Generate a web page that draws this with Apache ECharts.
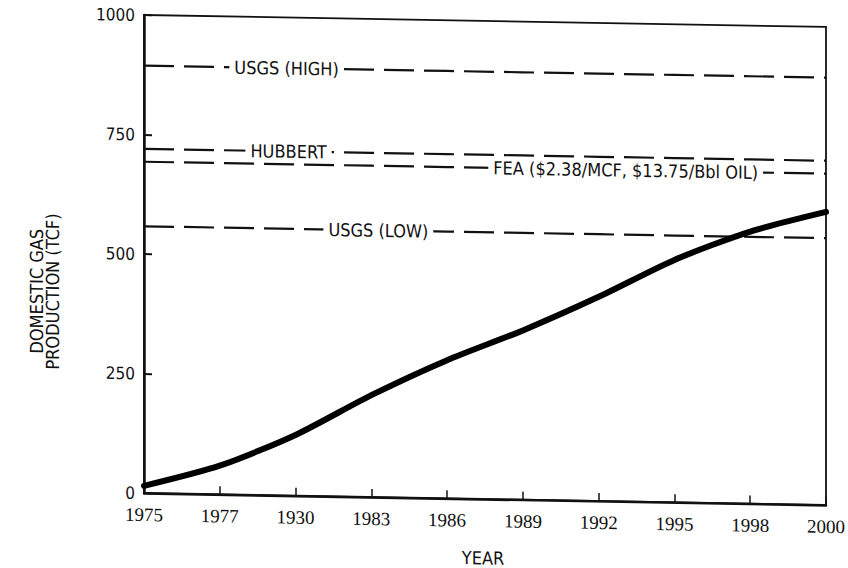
<!DOCTYPE html>
<html>
<head>
<meta charset="utf-8">
<title>Domestic Gas Production</title>
<script src="https://cdn.jsdelivr.net/npm/echarts@6/dist/echarts.min.js"></script>
<style>
  html, body { margin: 0; padding: 0; background: #fff; }
  /* slight slant of the whole drawing, pivoting on the left axis */
  #chart { width: 848px; height: 568px; transform: skewY(1deg); transform-origin: 144px 0; }
</style>
</head>
<body>
<div id="chart"></div>
<script>
// Year ticks, as printed on the axis
const years = ['1975', '1977', '1930', '1983', '1986', '1989', '1992', '1995', '1998', '2000'];

// Cumulative domestic gas production (TCF)
const production = [15, 60, 127, 213, 289, 354, 427, 507, 569, 613];

// Resource estimates (TCF)
const usgsHigh = [894, 894, 894, 894, 894, 894, 894, 894, 894, 894];
const hubbert  = [720, 720, 720, 720, 720, 720, 720, 720, 720, 720];
const fea      = [693, 693, 693, 693, 693, 693, 693, 693, 693, 693];
const usgsLow  = [558, 558, 558, 558, 558, 558, 558, 558, 558, 558];

const yTicks = [0, 250, 500, 750, 1000];

const SANS = '"DejaVu Sans Condensed", "DejaVu Sans", sans-serif';
const SERIF = '"Liberation Serif", "DejaVu Serif", serif';

// dashed estimate line with its caption sitting inline on one point
function estimateSeries(name, values, text, idx, dx) {
  return {
    name: name,
    type: 'line',
    z: 2,
    showSymbol: true,
    symbol: 'circle',
    symbolSize: 0,
    silent: true,
    lineStyle: { color: '#111', width: 2.2, type: [30, 10] },
    itemStyle: { color: '#111' },
    data: values.map((v, i) => i === idx ? {
      value: v,
      label: {
        show: true,
        position: 'inside',
        offset: [dx, 0],
        formatter: text,
        fontFamily: SANS,
        fontSize: 18,
        lineHeight: 16,
        color: '#111',
        backgroundColor: '#fff',
        padding: [0, 5]
      }
    } : { value: v, label: { show: false } })
  };
}

const chart = echarts.init(document.getElementById('chart'), null, { renderer: 'svg' });

chart.setOption({
  backgroundColor: '#fff',
  animation: false,
  grid: {
    left: 144, top: 15, width: 682, height: 478,
    show: true, borderColor: '#111', borderWidth: 1.8, backgroundColor: 'transparent'
  },
  xAxis: {
    type: 'category',
    data: years,
    boundaryGap: false,
    axisLine: { lineStyle: { color: '#111', width: 2.5 } },
    axisTick: { inside: true, length: 8, lineStyle: { color: '#111', width: 1.5 }, interval: 0 },
    axisLabel: { interval: 0, margin: 12, color: '#111', fontFamily: SERIF, fontSize: 19 },
    splitLine: { show: false },
    name: 'YEAR',
    nameLocation: 'middle',
    nameGap: 50,
    nameTextStyle: { color: '#111', fontFamily: SANS, fontSize: 18, padding: [0, 4, 0, 0] }
  },
  yAxis: {
    type: 'value',
    min: yTicks[0],
    max: yTicks[yTicks.length - 1],
    interval: 250,
    axisLine: { show: true, lineStyle: { color: '#111', width: 2.5 } },
    axisTick: { show: true, inside: true, length: 8, lineStyle: { color: '#111', width: 2 } },
    axisLabel: { margin: 9, color: '#111', fontFamily: SANS, fontSize: 17, formatter: v => String(v) },
    splitLine: { show: false }
  },
  graphic: [{
    type: 'text',
    left: 27,
    top: 215,
    rotation: Math.PI / 2,
    style: {
      text: 'DOMESTIC GAS\nPRODUCTION (TCF)',
      fontFamily: SANS,
      fontSize: 18,
      lineHeight: 17,
      fill: '#111',
      textAlign: 'center'
    }
  }],
  series: [
    estimateSeries('USGS (HIGH)', usgsHigh, 'USGS (HIGH)', 2, -9),
    estimateSeries('HUBBERT', hubbert, 'HUBBERT', 2, -7),
    estimateSeries('FEA', fea, 'FEA ($2.38/MCF, $13.75/Bbl OIL)', 6, 27),
    estimateSeries('USGS (LOW)', usgsLow, 'USGS (LOW)', 3, 7),
    {
      name: 'Production',
      type: 'line',
      z: 3,
      smooth: 0.25,
      showSymbol: false,
      symbol: 'none',
      lineStyle: { color: '#000', width: 6, cap: 'round' },
      data: production
    }
  ]
});
</script>
</body>
</html>
